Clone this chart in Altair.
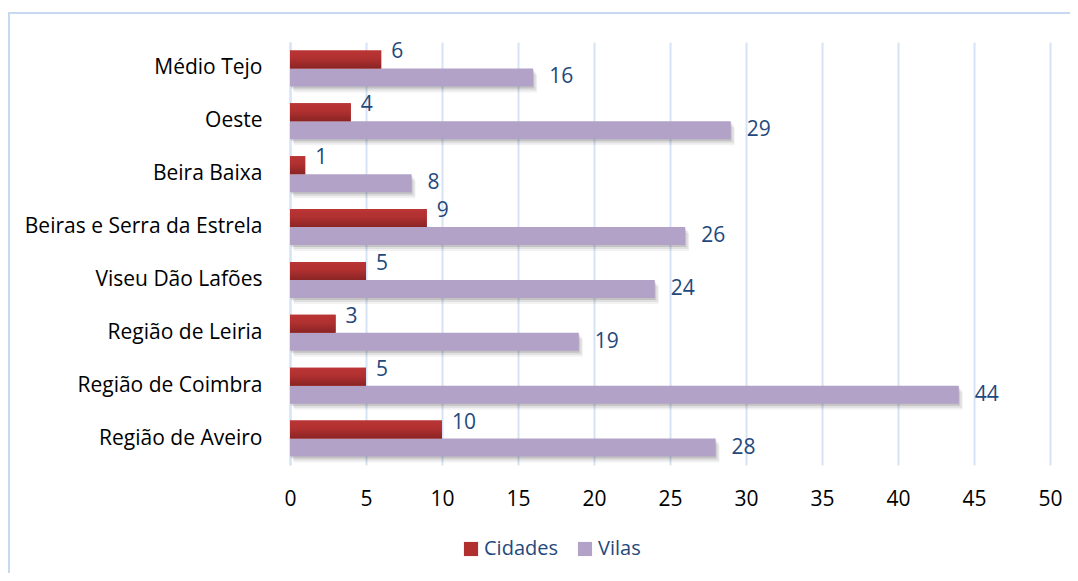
import altair as alt
import pandas as pd

regions = ["Médio Tejo", "Oeste", "Beira Baixa", "Beiras e Serra da Estrela",
           "Viseu Dão Lafões", "Região de Leiria", "Região de Coimbra", "Região de Aveiro"]
cidades = [6, 4, 1, 9, 5, 3, 5, 10]
vilas = [16, 29, 8, 26, 24, 19, 44, 28]
series = ["Cidades", "Vilas"]
x_ticks = [0, 5, 10, 15, 20, 25, 30, 35, 40, 45, 50]

rows = []
for r, c, v in zip(regions, cidades, vilas):
    rows.append({"regiao": r, "serie": "Cidades", "valor": c})
    rows.append({"regiao": r, "serie": "Vilas", "valor": v})
df = pd.DataFrame(rows)

FONT = "Open Sans"
FS = 21
RED = "#b03030"
PURPLE = "#b3a2c7"
GRID = "#d6e3f4"
LABEL_BLUE = "#1f497d"

y_enc = alt.Y("regiao:N", sort=regions,
              scale=alt.Scale(paddingInner=0.32, paddingOuter=0.16),
              axis=alt.Axis(title=None, ticks=False, domain=True, domainColor=GRID,
                            domainWidth=2, labelFont=FONT, labelFontSize=FS,
                            labelColor="black", labelPadding=28, labelLimit=400,
                            grid=False))
x_enc = alt.X("valor:Q", scale=alt.Scale(domain=[0, 50], nice=False),
              axis=alt.Axis(values=x_ticks, title=None, ticks=False, domain=False,
                            grid=True, gridColor=GRID, gridWidth=2, labelFlush=False,
                            labelFont=FONT, labelFontSize=FS, labelColor="black",
                            labelPadding=23))

color_enc = alt.Color("serie:N",
                      scale=alt.Scale(domain=series, range=[RED, PURPLE]),
                      legend=alt.Legend(title=None, orient="none", direction="horizontal",
                                        legendX=171, legendY=497, symbolType="square",
                                        symbolSize=200, symbolStrokeWidth=0,
                                        labelFont=FONT, labelFontSize=20,
                                        labelColor=LABEL_BLUE, columnPadding=17,
                                        labelOffset=3, padding=0))

base = alt.Chart(df)
cid = base.transform_filter(alt.datum.serie == "Cidades")
vil = base.transform_filter(alt.datum.serie == "Vilas")

shadows = [
    vil.mark_bar(height=18, yOffset=9 + 6, xOffset=4, color="black", opacity=0.05).encode(x=x_enc, y=y_enc),
    vil.mark_bar(height=18, yOffset=9 + 4, xOffset=3, color="black", opacity=0.08).encode(x=x_enc, y=y_enc),
    vil.mark_bar(height=18, yOffset=9 + 2, xOffset=1, color="black", opacity=0.12).encode(x=x_enc, y=y_enc),
]

vil_bars = vil.mark_bar(height=18, yOffset=9).encode(x=x_enc, y=y_enc, color=color_enc)
cid_bars = cid.mark_bar(height=18, yOffset=-9).encode(x=x_enc, y=y_enc, color=color_enc)
cid_grad = cid.mark_bar(
    height=18, yOffset=-9,
    fill=alt.Gradient(gradient="linear", x1=0, x2=0, y1=0, y2=1,
                      stops=[alt.GradientStop(color="#bb3535", offset=0),
                             alt.GradientStop(color="#b03030", offset=0.45),
                             alt.GradientStop(color="#8a2424", offset=1)])
).encode(x=x_enc, y=y_enc)

cid_text = cid.mark_text(align="left", baseline="middle", dx=10, dy=-16,
                         font=FONT, fontSize=FS, color=LABEL_BLUE).encode(
    x=x_enc, y=y_enc, text="valor:Q")
vil_text = vil.mark_text(align="left", baseline="middle", dx=16, dy=9,
                         font=FONT, fontSize=FS, color=LABEL_BLUE).encode(
    x=x_enc, y=y_enc, text="valor:Q")

frame = alt.Chart(pd.DataFrame({"k": [0]})).mark_rect(
    fill="transparent", stroke="#c6d9f0", strokeWidth=2).encode(
    x=alt.value(-281), x2=alt.value(2000), y=alt.value(-29), y2=alt.value(2000))

chart = alt.layer(frame, *shadows, vil_bars, cid_bars, cid_grad, cid_text, vil_text).properties(
    width=760, height=423,
    autosize=alt.AutoSizeParams(type="none"),
    padding={"left": 282, "top": 34, "right": 20, "bottom": 108},
    background="white",
).configure_view(stroke=None)

chart.save("out.html", embed_options={"renderer": "svg", "actions": False})
